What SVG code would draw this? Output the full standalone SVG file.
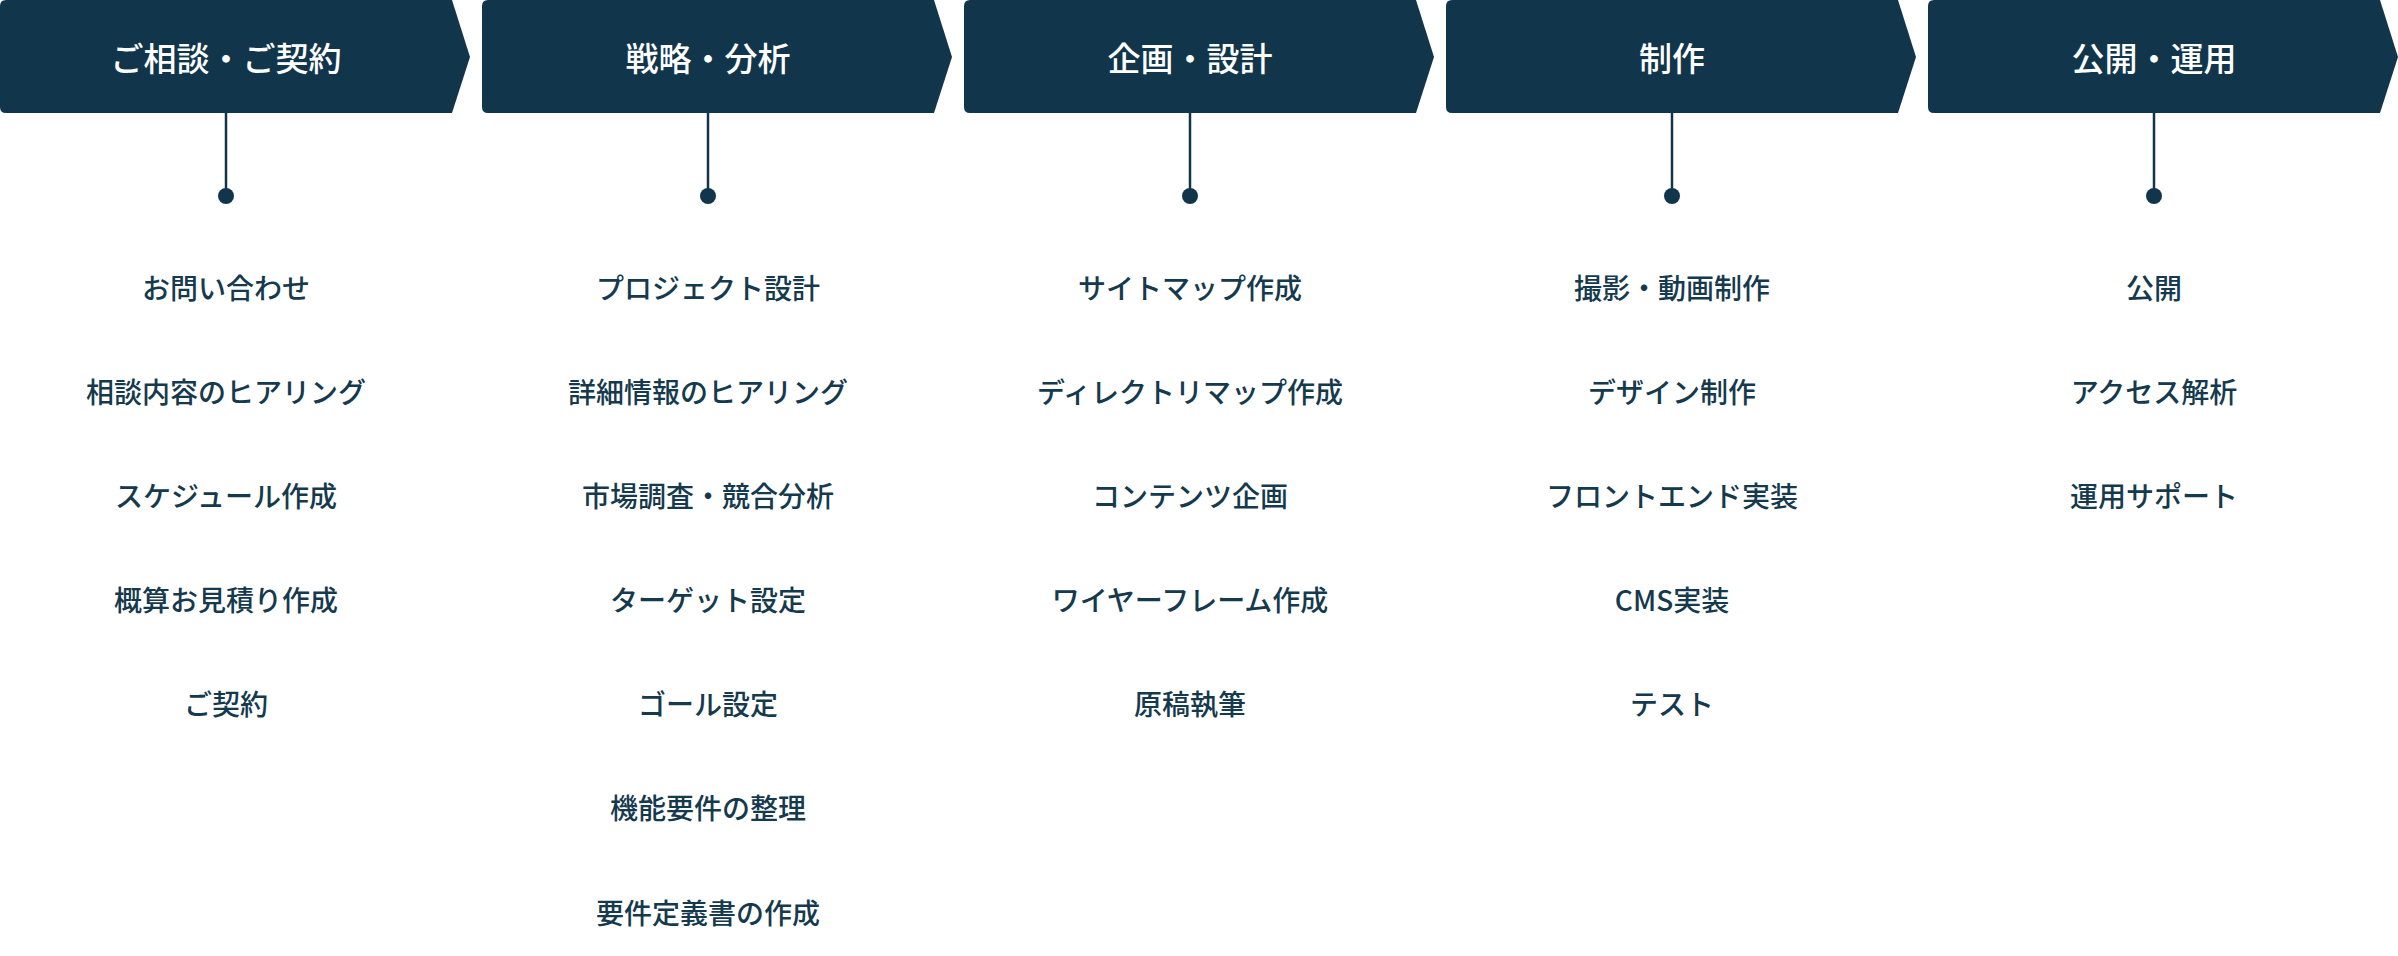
<svg xmlns="http://www.w3.org/2000/svg" width="2398" height="956" viewBox="0 0 2398 956">
<style>
.box{fill:#11364b}
.h{fill:#fff;font-family:"Noto Sans CJK JP",sans-serif;font-size:33px;font-weight:500;text-anchor:middle;dominant-baseline:central}
.t{fill:#163a4d;font-family:"Noto Sans CJK JP",sans-serif;font-size:28px;font-weight:500;text-anchor:middle;dominant-baseline:central}
.ln{stroke:#11364b;stroke-width:2.5}
.dot{fill:#11364b}
</style>
<defs><path id="chev" d="M6,0H452L470,57L452,113H6Q0,113 0,107V6Q0,0 6,0Z"/></defs>
<g id="connectors">
<line class="ln" x1="226" y1="113" x2="226" y2="196"/><circle class="dot" cx="226" cy="196" r="8"/>
<line class="ln" x1="708" y1="113" x2="708" y2="196"/><circle class="dot" cx="708" cy="196" r="8"/>
<line class="ln" x1="1190" y1="113" x2="1190" y2="196"/><circle class="dot" cx="1190" cy="196" r="8"/>
<line class="ln" x1="1672" y1="113" x2="1672" y2="196"/><circle class="dot" cx="1672" cy="196" r="8"/>
<line class="ln" x1="2154" y1="113" x2="2154" y2="196"/><circle class="dot" cx="2154" cy="196" r="8"/>
</g>
<g id="step1"><use href="#chev" class="box"/><text class="h" x="226" y="57">ご相談・ご契約</text>
<text class="t" x="226" y="287">お問い合わせ</text><text class="t" x="226" y="391">相談内容のヒアリング</text><text class="t" x="226" y="495">スケジュール作成</text><text class="t" x="226" y="599">概算お見積り作成</text><text class="t" x="226" y="703">ご契約</text></g>
<g id="step2"><use href="#chev" class="box" x="482"/><text class="h" x="708" y="57">戦略・分析</text>
<text class="t" x="708" y="287">プロジェクト設計</text><text class="t" x="708" y="391">詳細情報のヒアリング</text><text class="t" x="708" y="495">市場調査・競合分析</text><text class="t" x="708" y="599">ターゲット設定</text><text class="t" x="708" y="703">ゴール設定</text><text class="t" x="708" y="807">機能要件の整理</text><text class="t" x="708" y="912">要件定義書の作成</text></g>
<g id="step3"><use href="#chev" class="box" x="964"/><text class="h" x="1190" y="57">企画・設計</text>
<text class="t" x="1190" y="287">サイトマップ作成</text><text class="t" x="1190" y="391">ディレクトリマップ作成</text><text class="t" x="1190" y="495">コンテンツ企画</text><text class="t" x="1190" y="599">ワイヤーフレーム作成</text><text class="t" x="1190" y="703">原稿執筆</text></g>
<g id="step4"><use href="#chev" class="box" x="1446"/><text class="h" x="1672" y="57">制作</text>
<text class="t" x="1672" y="287">撮影・動画制作</text><text class="t" x="1672" y="391">デザイン制作</text><text class="t" x="1672" y="495">フロントエンド実装</text><text class="t" x="1672" y="599">CMS実装</text><text class="t" x="1672" y="703">テスト</text></g>
<g id="step5"><use href="#chev" class="box" x="1928"/><text class="h" x="2154" y="57">公開・運用</text>
<text class="t" x="2154" y="287">公開</text><text class="t" x="2154" y="391">アクセス解析</text><text class="t" x="2154" y="495">運用サポート</text></g>
</svg>
